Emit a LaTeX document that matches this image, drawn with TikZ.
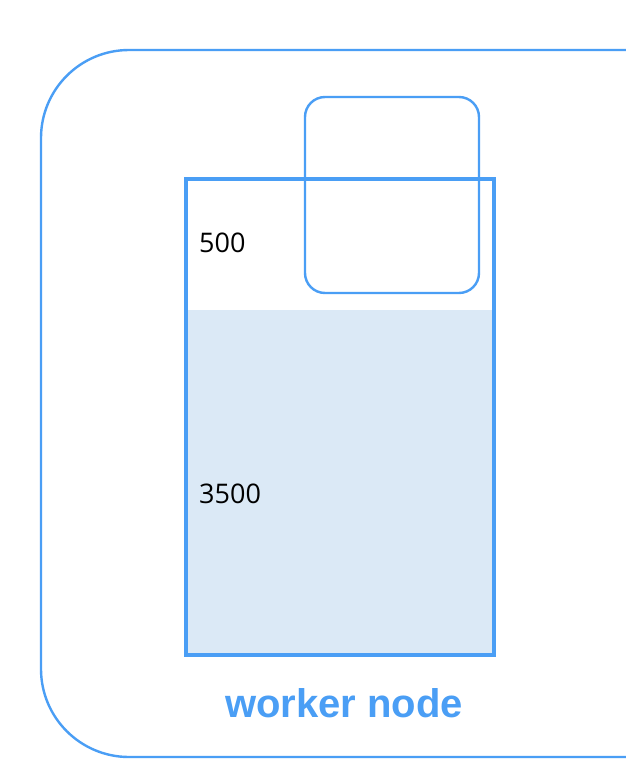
\documentclass[tikz,border=0pt]{standalone}
\usepackage{fontspec}
\setmainfont{Open Sans}
\newfontfamily\labelfont{Liberation Sans}
\definecolor{nodeblue}{HTML}{4A9EF5}
\definecolor{memfill}{HTML}{DBE9F6}
\tikzset{
  outerbox/.style={draw=nodeblue, line width=2.4pt, rounded corners=88pt},
  membox/.style={draw=nodeblue, line width=4.5pt},
  podbox/.style={draw=nodeblue, line width=2.4pt, rounded corners=20pt},
  numtext/.style={font=\fontsize{27}{32}\selectfont, text=black, anchor=west, inner sep=0pt},
  titletext/.style={font=\labelfont\bfseries\fontsize{40}{46}\selectfont, text=nodeblue, inner sep=0pt}
}
\begin{document}
\begin{tikzpicture}[x=1pt,y=-1pt]
\useasboundingbox (0,0) rectangle (626,782);
\fill[white] (0,0) rectangle (626,782);
\begin{scope}
\clip (0,0) rectangle (626,782);
\draw[outerbox] (41,50) rectangle (720,757);
\end{scope}
\fill[memfill] (186,310) rectangle (494,655);
\draw[membox] (186,179) rectangle (494,655);
\draw[podbox] (305,97) rectangle (479,293);
\node[numtext] (n500) at (199,243) {500};
\node[numtext] (n3500) at (199,494) {3500};
\node[titletext] (title) at (344,703) {worker node};
\end{tikzpicture}
\end{document}
